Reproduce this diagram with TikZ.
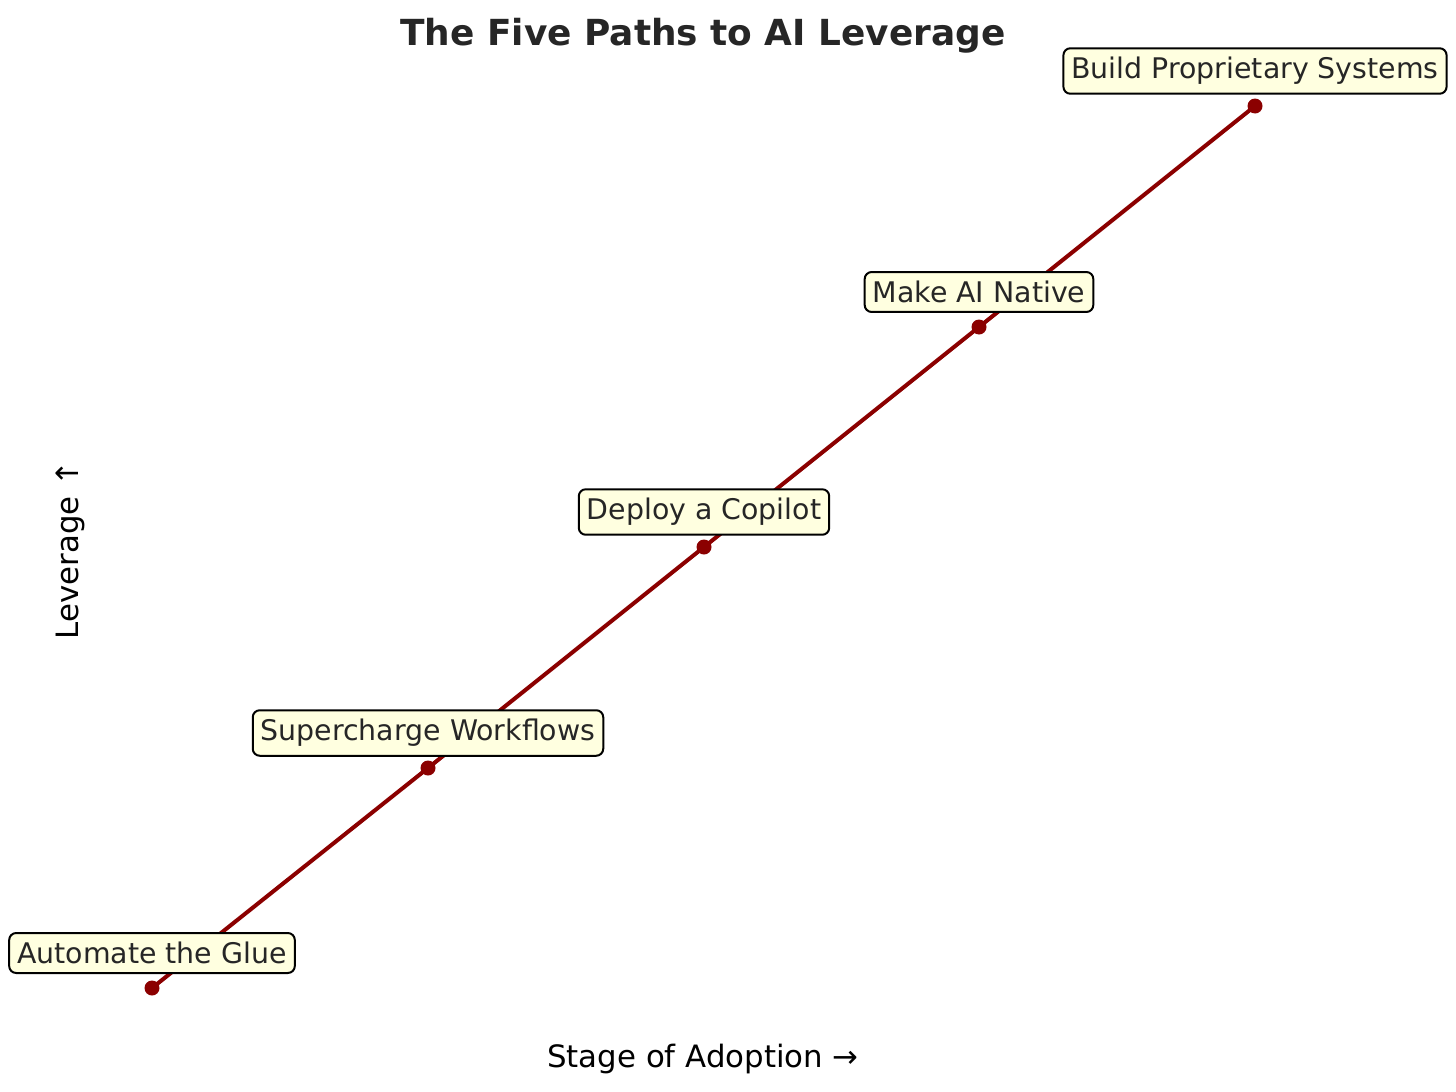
\documentclass[tikz,border=0pt]{standalone}
\usepackage{fontspec}
\setmainfont{DejaVu Sans}
\definecolor{lineRed}{HTML}{8B0000}
\definecolor{boxFill}{HTML}{FFFFE0}
\definecolor{txt}{HTML}{262626}
\begin{document}
\begin{tikzpicture}[x=1pt,y=-1pt,
  lbl/.style={draw=black, line width=2pt, fill=boxFill, rounded corners=7pt, text=txt,
    font=\fontsize{28.4}{32}\selectfont, inner xsep=8pt, inner ysep=9pt},
  pt/.style={circle, fill=lineRed, inner sep=0pt, minimum size=15pt},
  axl/.style={font=\fontsize{30.8}{34}\selectfont, text=black}]
\useasboundingbox (0,0) rectangle (1456,1092);
\node[pt] (p1) at (152,988) {};
\node[pt] (p2) at (428,768) {};
\node[pt] (p3) at (704,547) {};
\node[pt] (p4) at (979,327) {};
\node[pt] (p5) at (1255,106) {};
\draw[lineRed, line width=4pt] (p1.center) -- (p2.center) -- (p3.center) -- (p4.center) -- (p5.center);
\node[lbl] (l1) at (152,953) {Automate the Glue};
\node[lbl] (l2) at (428,733) {Supercharge Workflows};
\node[lbl] (l3) at (704,512) {Deploy a Copilot};
\node[lbl] (l4) at (979,292) {Make AI Native};
\node[lbl] (l5) at (1255,71) {Build Proprietary Systems};
\node[font=\bfseries\fontsize{35.9}{40}\selectfont, text=txt] (title) at (703,36) {The Five Paths to AI Leverage};
\node[axl] (xl) at (703,1059) {Stage of Adoption →};
\node[axl, rotate=90] (yl) at (70,550) {Leverage ↑};
\end{tikzpicture}
\end{document}
